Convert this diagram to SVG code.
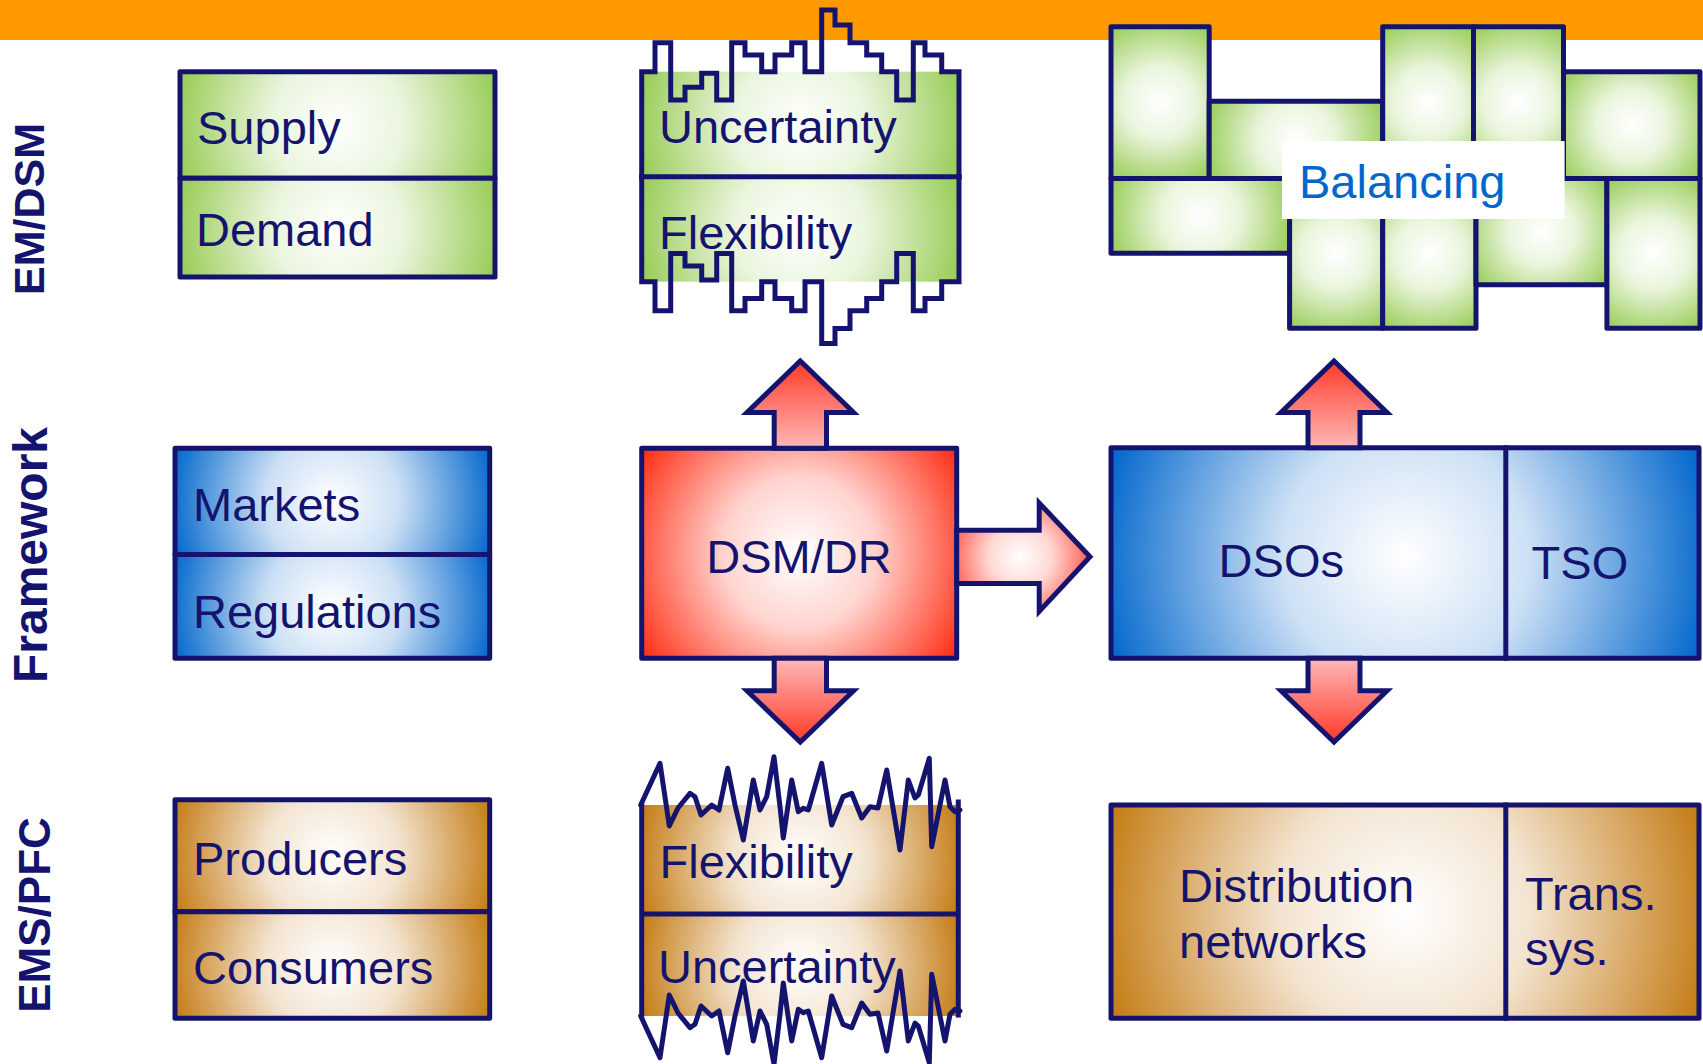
<svg xmlns="http://www.w3.org/2000/svg" width="1703" height="1064" viewBox="0 0 1703 1064">
  <defs>
    <style>
      .ln{fill:none;stroke:#14146E;stroke-width:5;stroke-linejoin:round;stroke-linecap:round}
      .st{fill:none;stroke:#14146E;stroke-width:5;stroke-linejoin:miter;stroke-linecap:square}
      .bx{stroke:#14146E;stroke-width:5;stroke-linejoin:round}
      .arr{stroke:#14146E;stroke-width:5;stroke-linejoin:miter}
      .t{font-family:"Liberation Sans",Arial,sans-serif;font-size:47px;fill:#14146E}
      .lab{font-family:"Liberation Sans",Arial,sans-serif;font-weight:bold;fill:#14146E;text-anchor:middle}
    </style>
    <!-- base colour ramps, centre white -->
    <radialGradient id="gG" gradientUnits="userSpaceOnUse">
      <stop offset="0" stop-color="#FFFFFF"/><stop offset="0.4" stop-color="#EAF5DD"/><stop offset="1" stop-color="#96CB53"/>
    </radialGradient>
    <radialGradient id="gB" gradientUnits="userSpaceOnUse">
      <stop offset="0" stop-color="#FFFFFF"/><stop offset="0.4" stop-color="#CCE0F5"/><stop offset="1" stop-color="#0066CC"/>
    </radialGradient>
    <radialGradient id="gO" gradientUnits="userSpaceOnUse">
      <stop offset="0" stop-color="#FFFFFF"/><stop offset="0.4" stop-color="#F3E4D0"/><stop offset="1" stop-color="#C47A12"/>
    </radialGradient>
    <radialGradient id="gR" gradientUnits="userSpaceOnUse">
      <stop offset="0" stop-color="#FFFFFF"/><stop offset="0.4" stop-color="#FFD4CF"/><stop offset="1" stop-color="#FF2A10"/>
    </radialGradient>
    <!-- per-cell placements -->
    <radialGradient id="gSupply" href="#gG" gradientUnits="userSpaceOnUse" cx="337.5" cy="125" r="166"/>
    <radialGradient id="gDemand" href="#gG" gradientUnits="userSpaceOnUse" cx="337.5" cy="227.7" r="165"/>
    <radialGradient id="gMarkets" href="#gB" gradientUnits="userSpaceOnUse" cx="332.4" cy="501.4" r="166"/>
    <radialGradient id="gRegs" href="#gB" gradientUnits="userSpaceOnUse" cx="332.4" cy="606.4" r="166"/>
    <radialGradient id="gProd" href="#gO" gradientUnits="userSpaceOnUse" cx="332.4" cy="855.8" r="167"/>
    <radialGradient id="gCons" href="#gO" gradientUnits="userSpaceOnUse" cx="332.4" cy="965" r="166"/>
    <radialGradient id="gUncG" href="#gG" gradientUnits="userSpaceOnUse" cx="800.3" cy="124.2" r="167"/>
    <radialGradient id="gFlexG" href="#gG" gradientUnits="userSpaceOnUse" cx="800.3" cy="229.2" r="167"/>
    <radialGradient id="gFlexO" href="#gO" gradientUnits="userSpaceOnUse" cx="800" cy="859.5" r="167"/>
    <radialGradient id="gUncO" href="#gO" gradientUnits="userSpaceOnUse" cx="800" cy="965" r="166"/>
    <radialGradient id="gDsm" href="#gR" gradientUnits="userSpaceOnUse" cx="799.2" cy="553.3" r="189"/>
    <radialGradient id="gDso" href="#gB" gradientUnits="userSpaceOnUse" cx="1405" cy="556" r="312"/>
    <radialGradient id="gDist" href="#gO" gradientUnits="userSpaceOnUse" cx="1405" cy="911.7" r="313"/>
    <radialGradient id="gBa" href="#gG" gradientUnits="userSpaceOnUse" cx="1160.1" cy="102.7" r="90"/>
    <radialGradient id="gBb" href="#gG" gradientUnits="userSpaceOnUse" cx="1296" cy="139.9" r="95"/>
    <radialGradient id="gBc" href="#gG" gradientUnits="userSpaceOnUse" cx="1428.1" cy="102.7" r="88"/>
    <radialGradient id="gBd" href="#gG" gradientUnits="userSpaceOnUse" cx="1518.5" cy="102.7" r="88"/>
    <radialGradient id="gBe" href="#gG" gradientUnits="userSpaceOnUse" cx="1631.8" cy="125.2" r="87"/>
    <radialGradient id="gBf" href="#gG" gradientUnits="userSpaceOnUse" cx="1200.3" cy="215.9" r="97"/>
    <radialGradient id="gBg" href="#gG" gradientUnits="userSpaceOnUse" cx="1336.2" cy="253.4" r="88"/>
    <radialGradient id="gBh" href="#gG" gradientUnits="userSpaceOnUse" cx="1429.4" cy="253.4" r="88"/>
    <radialGradient id="gBi" href="#gG" gradientUnits="userSpaceOnUse" cx="1541.5" cy="231.7" r="84"/>
    <radialGradient id="gBj" href="#gG" gradientUnits="userSpaceOnUse" cx="1653.5" cy="253.4" r="88"/>
    <!-- arrow fills -->
    <linearGradient id="gUp" x1="0" y1="0" x2="0" y2="1">
      <stop offset="0" stop-color="#FF3A28"/><stop offset="1" stop-color="#FFB8B8"/>
    </linearGradient>
    <linearGradient id="gDown" x1="0" y1="0" x2="0" y2="1">
      <stop offset="0" stop-color="#FFB8B8"/><stop offset="1" stop-color="#FF3A28"/>
    </linearGradient>
    <radialGradient id="gRight" gradientUnits="userSpaceOnUse" cx="1020" cy="557" r="78">
      <stop offset="0" stop-color="#FFFFFF"/><stop offset="0.4" stop-color="#FFD8D4"/><stop offset="1" stop-color="#FF4433"/>
    </radialGradient>
    <!-- stepped profile above the top-middle box; mirrored below it -->
    <path id="stairs" class="st" d="M641.7,176.7 V71.7 H655 V42.7 H670.7 V100 H685 V87.3 H701.7 V73.3 H716.7 V100 H731.7 V42.7 H745 V55 H761.7 V71.7 H775 V55 H791.7 V42.7 H805 V71.7 H821.7 V10 H835 V25 H850 V42.7 H866.7 V55 H881.7 V71.7 H896.7 V100 H913.3 V42.7 H925 V55 H941.7 V71.7 H959 V176.7"/>
    <!-- noisy trace above the bottom-middle box; mirrored below it -->
    <polyline id="noise" class="ln" points="640.7,805 660,763.3 669.3,826 678,808 690,793.3 695,796.7 701,815 711.7,805 719,810 727.7,768.3 735,805 743.3,840 753.3,780 760,810 766.7,796.7 774,756.7 780,806.7 783.3,838 791.7,780 798.3,811.7 803.3,808.3 808.3,810 821.7,763.3 831.7,825 843,796.7 851.7,793.3 861.7,818 870,806.7 878,808 886.7,770 900,850 908.3,780 915,798 918.3,795 929.3,758.3 931.7,846.7 945,780 950,806.7 955,811.7 960,810"/>
  </defs>

  <rect x="0" y="0" width="1703" height="1064" fill="#FFFFFF"/>
  <rect id="top-bar" x="0" y="0" width="1703" height="40" fill="#FF9900"/>

  <!-- row titles -->
  <g id="row-emdsm"><text class="lab" font-size="43" x="44" y="209" transform="rotate(-90 44 209)">EM/DSM</text></g>
  <g id="row-framework"><text class="lab" font-size="48" x="47" y="555" transform="rotate(-90 47 555)">Framework</text></g>
  <g id="row-emspfc"><text class="lab" font-size="44" x="50" y="915" transform="rotate(-90 50 915)">EMS/PFC</text></g>

  <!-- left column -->
  <g id="supply-demand">
    <rect class="bx" x="180" y="71.7" width="315" height="106.6" fill="url(#gSupply)"/>
    <rect class="bx" x="180" y="178.3" width="315" height="98.7" fill="url(#gDemand)"/>
    <text class="t" x="197" y="144">Supply</text>
    <text class="t" x="196" y="246">Demand</text>
  </g>
  <g id="markets-regulations">
    <rect class="bx" x="175" y="448.2" width="314.7" height="106.3" fill="url(#gMarkets)"/>
    <rect class="bx" x="175" y="554.5" width="314.7" height="103.8" fill="url(#gRegs)"/>
    <text class="t" x="193" y="521">Markets</text>
    <text class="t" x="193" y="628">Regulations</text>
  </g>
  <g id="producers-consumers">
    <rect class="bx" x="175" y="799.8" width="314.7" height="111.9" fill="url(#gProd)"/>
    <rect class="bx" x="175" y="911.7" width="314.7" height="106.6" fill="url(#gCons)"/>
    <text class="t" x="193" y="875">Producers</text>
    <text class="t" x="193" y="984">Consumers</text>
  </g>

  <!-- middle column -->
  <g id="uncertainty-flexibility">
    <rect x="641.7" y="71.7" width="317.3" height="105" fill="url(#gUncG)"/>
    <rect x="641.7" y="176.7" width="317.3" height="105" fill="url(#gFlexG)"/>
    <text class="t" x="659" y="143.3">Uncertainty</text>
    <text class="t" x="659" y="249.3">Flexibility</text>
    <use href="#stairs"/>
    <use href="#stairs" transform="translate(0,353.4) scale(1,-1)"/>
    <path class="st" d="M641.7,176.7 H959"/>
  </g>
  <g id="dsm-dr">
    <rect class="bx" x="641.7" y="448.3" width="315" height="210" fill="url(#gDsm)"/>
    <text class="t" x="799" y="572.7" text-anchor="middle">DSM/DR</text>
  </g>
  <g id="flexibility-uncertainty">
    <rect x="641.7" y="805" width="316.6" height="109" fill="url(#gFlexO)"/>
    <rect x="641.7" y="914" width="316.6" height="102" fill="url(#gUncO)"/>
    <text class="t" x="659.5" y="878.3">Flexibility</text>
    <text class="t" x="658" y="982.7">Uncertainty</text>
    <path class="st" d="M641.7,805 V1016 M958.3,802 V1015 M641.7,914 H958.3"/>
    <use href="#noise"/>
    <use href="#noise" transform="translate(0,1821) scale(1,-1)"/>
  </g>

  <!-- right column -->
  <g id="balancing">
    <rect class="bx" x="1111" y="26.8" width="98.2" height="151.7" fill="url(#gBa)"/>
    <rect class="bx" x="1209.2" y="101.2" width="173.5" height="77.3" fill="url(#gBb)"/>
    <rect class="bx" x="1382.7" y="26.8" width="90.8" height="151.7" fill="url(#gBc)"/>
    <rect class="bx" x="1473.5" y="26.8" width="90" height="151.7" fill="url(#gBd)"/>
    <rect class="bx" x="1563.5" y="71.8" width="136.5" height="106.7" fill="url(#gBe)"/>
    <rect class="bx" x="1111" y="178.5" width="178.6" height="74.7" fill="url(#gBf)"/>
    <rect class="bx" x="1289.6" y="178.5" width="93.1" height="149.8" fill="url(#gBg)"/>
    <rect class="bx" x="1382.7" y="178.5" width="93.3" height="149.8" fill="url(#gBh)"/>
    <rect class="bx" x="1476" y="178.5" width="130.9" height="106.3" fill="url(#gBi)"/>
    <rect class="bx" x="1606.9" y="178.5" width="93.1" height="149.8" fill="url(#gBj)"/>
    <rect x="1282" y="141" width="282.6" height="78" fill="#FFFFFF"/>
    <text class="t" x="1299" y="198.3" style="fill:#0066CC">Balancing</text>
  </g>
  <g id="dsos-tso">
    <rect class="bx" x="1111" y="447.8" width="588" height="210.5" fill="url(#gDso)"/>
    <path class="st" d="M1505.8,447.8 V658.3"/>
    <text class="t" x="1218.6" y="576.7">DSOs</text>
    <text class="t" x="1531.6" y="579">TSO</text>
  </g>
  <g id="distribution-trans">
    <rect class="bx" x="1111" y="805" width="588" height="213.3" fill="url(#gDist)"/>
    <path class="st" d="M1505.8,805 V1018.3"/>
    <text class="t" x="1179" y="901.7">Distribution</text>
    <text class="t" x="1179" y="958.3">networks</text>
    <text class="t" x="1525" y="910">Trans.</text>
    <text class="t" x="1525" y="965">sys.</text>
  </g>

  <!-- block arrows -->
  <g id="connectors">
    <polygon class="arr" fill="url(#gUp)" points="774.2,448.3 774.2,412.5 747,412.5 800.3,361 853.6,412.5 826.5,412.5 826.5,448.3"/>
    <polygon class="arr" fill="url(#gDown)" points="774.2,658.3 774.2,690.8 747,690.8 800.3,742 853.6,690.8 826.5,690.8 826.5,658.3"/>
    <polygon class="arr" fill="url(#gRight)" points="956.7,530.2 1039.2,530.2 1039.2,503 1090,556.8 1039.2,611.5 1039.2,583.5 956.7,583.5"/>
    <polygon class="arr" fill="url(#gUp)" points="1308,447.8 1308,412.5 1281,412.5 1334,361 1387,412.5 1360,412.5 1360,447.8"/>
    <polygon class="arr" fill="url(#gDown)" points="1308,658.3 1308,690.8 1281,690.8 1334,742 1387,690.8 1360,690.8 1360,658.3"/>
  </g>
</svg>
